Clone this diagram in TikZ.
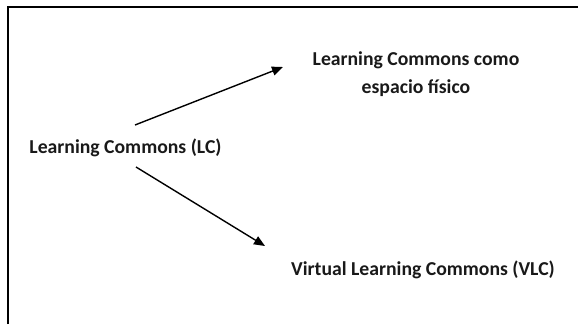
\documentclass[tikz,border=0pt]{standalone}
\usepackage{fontspec}
\setmainfont{Carlito}
\usetikzlibrary{arrows.meta}
\tikzset{
  lbl/.style={font=\bfseries\fontsize{19.7}{28}\selectfont, align=center, inner sep=0pt, text=black!90},
  conn/.style={line width=1.4pt, -{Triangle[length=11pt,width=9pt]}},
  frame/.style={line width=2pt}
}
\begin{document}
\begin{tikzpicture}[x=1pt,y=-1pt]
\useasboundingbox (0,0) rectangle (578,324);
\draw[frame] (7.5,324) -- (7.5,6.5) -- (578,6.5);
\node[lbl] (lc) at (125.5,148) {Learning Commons (LC)};
\node[lbl] (phys) at (416,74) {Learning Commons como\\espacio físico};
\node[lbl] (vlc) at (423,270) {Virtual Learning Commons (VLC)};
\coordinate (s1) at (135,125);
\coordinate (e1) at (283,67);
\coordinate (s2) at (136,167);
\coordinate (e2) at (265,246);
\draw[conn] (s1) -- (e1);
\draw[conn] (s2) -- (e2);
\end{tikzpicture}
\end{document}
